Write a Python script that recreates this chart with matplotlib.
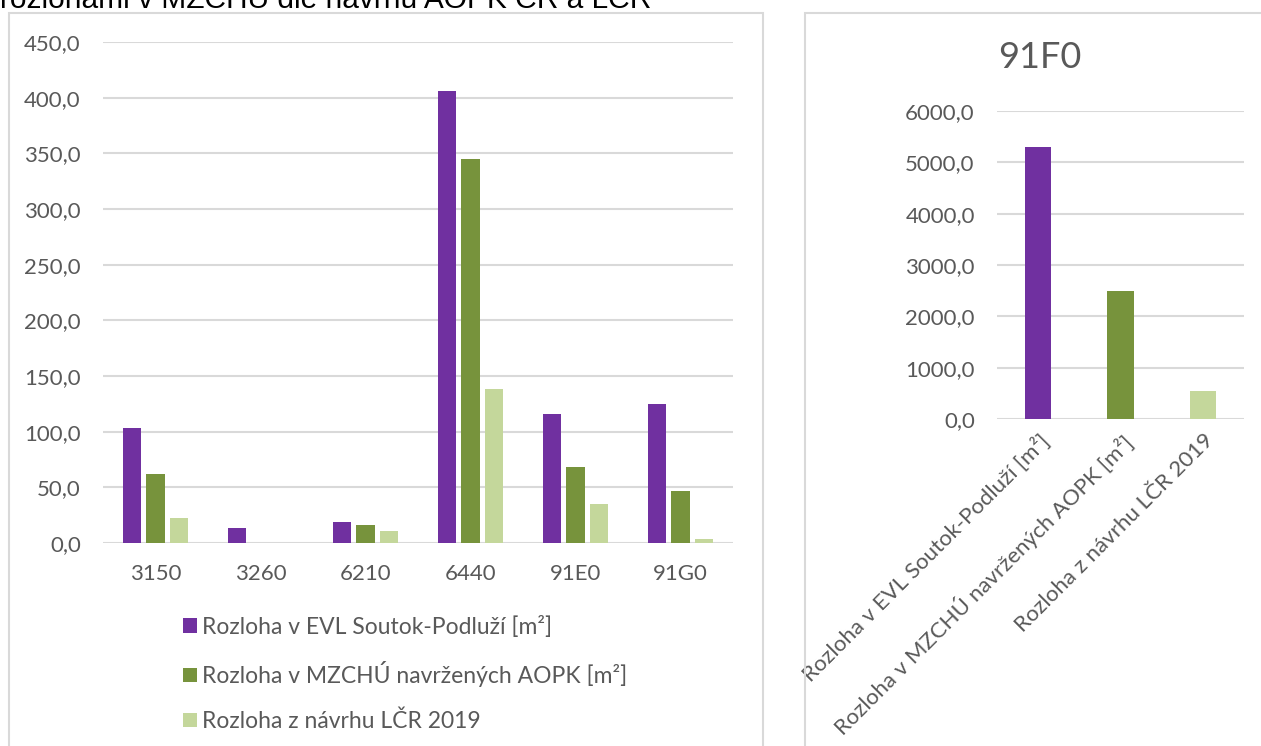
import numpy as np
import matplotlib.pyplot as plt
from matplotlib.patches import Rectangle
from matplotlib.ticker import FuncFormatter

plt.rcParams['font.family'] = ['Lato', 'DejaVu Sans']

# data
habitaty = ['3150', '3260', '6210', '6440', '91E0', '91G0']
evl = [103.3, 13.2, 19.2, 406.0, 115.9, 125.1]
mzchu = [61.7, 0.0, 16.5, 345.0, 68.3, 46.7]
lcr = [22.2, 0.0, 10.8, 138.3, 35.0, 3.6]

nazvy = ['Rozloha v EVL Soutok-Podluží [m²]',
         'Rozloha v MZCHÚ navržených AOPK [m²]',
         'Rozloha z návrhu LČR 2019']
f0_hodnoty = [5300.0, 2500.0, 551.0]

barvy = ['#7030a0', '#77933c', '#c4d79b']
seda = '#595959'
mrizka = '#d9d9d9'

W, H = 1261, 746
fig = plt.figure(figsize=(W / 100, H / 100), dpi=100)

def px(x0, y0, x1, y1):
    # pixelovy obdelnik -> souradnice figury
    return [x0 / W, 1 - y1 / H, (x1 - x0) / W, (y1 - y0) / H]

# oriznuty nadpis nahore
fig.text(0.0, 1 - 8 / H, 'rozlohami v MZCHÚ dle návrhu AOPK ČR a LČR',
         family=['Liberation Sans', 'DejaVu Sans'], fontsize=21.5,
         color='black', va='baseline', ha='left')

# ramecky grafu
fig.patches.append(Rectangle((9 / W, -0.1), (763 - 9) / W, 1.1 - 13 / H,
                             transform=fig.transFigure, fill=False,
                             edgecolor=mrizka, lw=1.5))
fig.patches.append(Rectangle((805 / W, -0.1), 0.5, 1.1 - 13 / H,
                             transform=fig.transFigure, fill=False,
                             edgecolor=mrizka, lw=1.5))

fmt = FuncFormatter(lambda v, p: f'{v:.1f}'.replace('.', ','))

def styl(ax):
    for s in ax.spines.values():
        s.set_visible(False)
    ax.yaxis.grid(True, color=mrizka, lw=1.5)
    ax.set_axisbelow(True)
    ax.tick_params(length=0, colors=seda, labelsize=16)
    ax.yaxis.set_major_formatter(fmt)

# levy graf
ax = fig.add_axes(px(103, 42, 733, 543))
x = np.arange(len(habitaty))
w = 0.178
for i, (vals, c) in enumerate(zip([evl, mzchu, lcr], barvy)):
    ax.bar(x + (i - 1) * (w + 0.045), vals, width=w, color=c, label=nazvy[i])
ax.set_xlim(-0.5, len(habitaty) - 0.5)
ax.set_ylim(0, 450)
ax.set_yticks(np.arange(0, 451, 50))
ax.set_xticks(x)
ax.set_xticklabels(habitaty)
styl(ax)
ax.tick_params(axis='y', pad=16)
ax.tick_params(axis='x', pad=15)
ax.legend(loc='upper left', bbox_to_anchor=(71 / 630, -0.127), frameon=False,
          fontsize=16.5, labelcolor=seda, handlelength=0.6, handleheight=0.6,
          handletextpad=0.2, labelspacing=1.02, borderaxespad=0)

# pravy graf 91F0
ax2 = fig.add_axes(px(997, 111, 1244, 419))
x2 = np.arange(len(nazvy))
ax2.bar(x2, f0_hodnoty, width=0.32, color=barvy)
ax2.set_xlim(-0.5, 2.5)
ax2.set_ylim(0, 6000)
ax2.set_yticks(np.arange(0, 6001, 1000))
ax2.set_xticks(x2)
ax2.set_xticklabels(nazvy, rotation=45, ha='right', rotation_mode='anchor',
                    fontsize=16.5)
styl(ax2)
ax2.tick_params(axis='y', pad=16)
ax2.tick_params(axis='x', pad=8)
fig.text(1040 / W, 1 - 57 / H, '91F0', fontsize=26, color=seda,
         ha='center', va='center')

fig.savefig('out.png', dpi=100)
